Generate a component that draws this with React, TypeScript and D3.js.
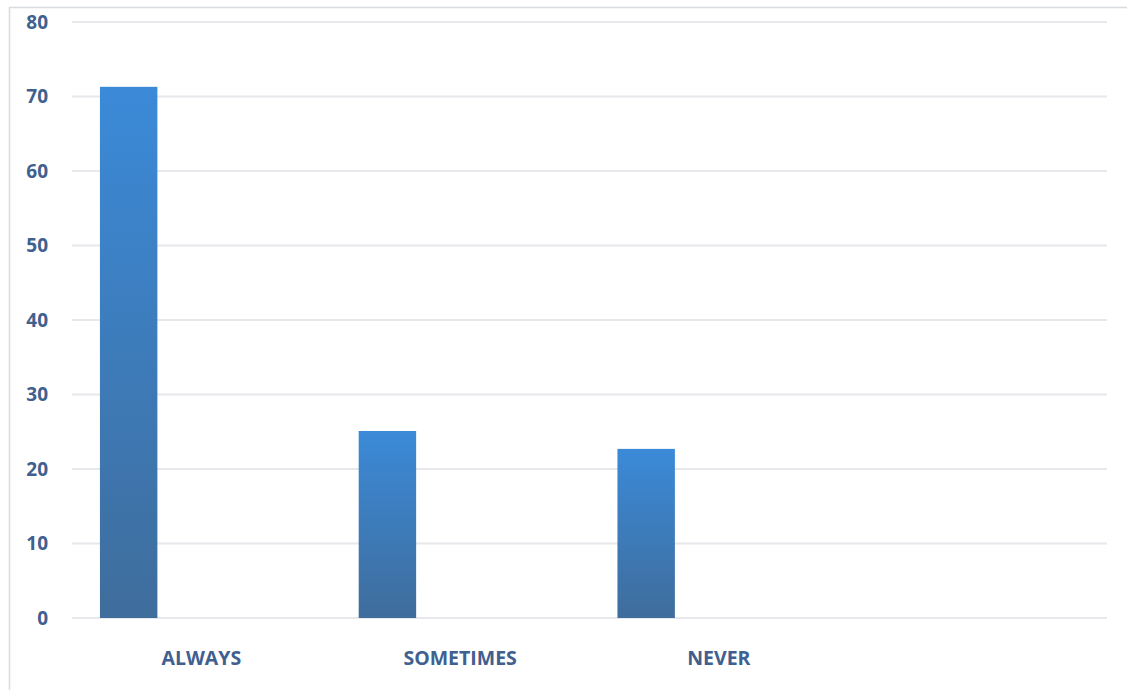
import React from "react";
import * as d3 from "d3";

const categories = ["ALWAYS", "SOMETIMES", "NEVER", ""];
const values = [71.3, 25.1, 22.7, null];
const yTicks = [0, 10, 20, 30, 40, 50, 60, 70, 80];

const W = 1127;
const H = 690;
const M = { left: 72, right: 20, top: 22, bottom: 72 };

export default function App() {
  const x = d3
    .scaleBand<string>()
    .domain(categories)
    .range([M.left, W - M.right])
    .paddingInner(0)
    .paddingOuter(0);
  const y = d3.scaleLinear().domain([0, 80]).range([H - M.bottom, M.top]);
  const bw = x.bandwidth();
  const barOffset = bw * 0.108;
  const barW = bw * 0.222;
  const textColor = "#40608f";
  const font = "'Open Sans', 'Liberation Sans', sans-serif";

  return (
    <svg
      width={W}
      height={H}
      style={{ position: "absolute", left: 0, top: 0, display: "block", background: "#fff" }}
    >
      <defs>
        <linearGradient id="barGrad" x1="0" y1="0" x2="0" y2="1">
          <stop offset="0%" stopColor="#3b8ad8" />
          <stop offset="100%" stopColor="#3f6d9c" />
        </linearGradient>
      </defs>
      <rect x={9.5} y={7.5} width={W + 10} height={H - 5} fill="none" stroke="#d8dbe0" strokeWidth={1.5} />
      {yTicks.map((t) => (
        <g key={t}>
          <line
            x1={M.left}
            x2={W - M.right}
            y1={y(t)}
            y2={y(t)}
            stroke="#e6e8ec"
            strokeWidth={2}
          />
          <text
            x={48}
            y={y(t)}
            dy="0.35em"
            textAnchor="end"
            fill={textColor}
            fontFamily={font}
            fontWeight={700}
            fontSize={19}
          >
            {t}
          </text>
        </g>
      ))}
      {categories.map((c, i) =>
        values[i] == null ? null : (
          <rect
            key={c}
            x={(x(c) as number) + barOffset}
            y={y(values[i] as number)}
            width={barW}
            height={y(0) - y(values[i] as number)}
            fill="url(#barGrad)"
          />
        )
      )}
      {categories.map((c) =>
        c ? (
          <text
            key={c}
            x={(x(c) as number) + bw / 2}
            y={H - 32}
            dy="0.35em"
            textAnchor="middle"
            fill={textColor}
            fontFamily={font}
            fontWeight={700}
            fontSize={19.5}
          >
            {c}
          </text>
        ) : null
      )}
    </svg>
  );
}
